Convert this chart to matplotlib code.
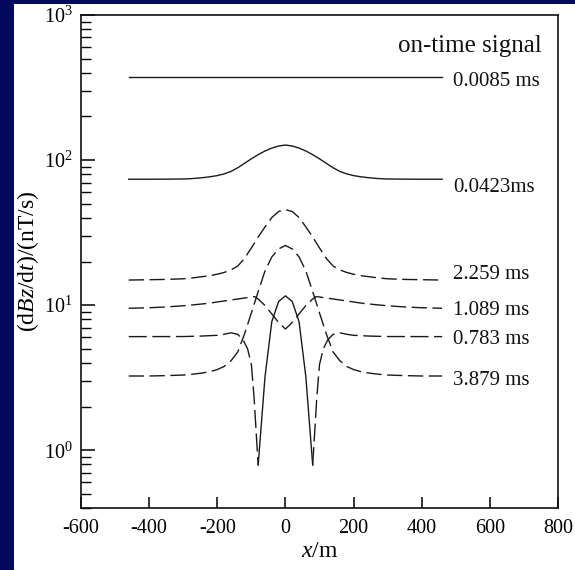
import matplotlib
matplotlib.use("Agg")
import matplotlib.pyplot as plt
from matplotlib.patches import Rectangle
from matplotlib.ticker import LogLocator, NullFormatter, FixedLocator

plt.rcParams['font.family'] = ['Liberation Serif', 'DejaVu Serif']
plt.rcParams['mathtext.fontset'] = 'custom'
plt.rcParams['mathtext.rm'] = 'Liberation Serif'
plt.rcParams['mathtext.it'] = 'Liberation Serif:italic'
plt.rcParams['mathtext.bf'] = 'Liberation Serif:bold'
plt.rcParams['axes.unicode_minus'] = False

# ---------------- data ----------------
x_grid = [-460, -400, -350, -300, -280, -260, -240, -220, -200, -180, -160, -140, -120, -100, -80, -60,
          -40, -20, 0, 20, 40, 60, 80, 100, 120, 140, 160, 180, 200, 220, 240, 260, 280, 300, 350, 400, 460]

v_0085 = [372] * 37

v_0423 = [73.8, 73.8, 73.9, 74.1, 74.4, 75.0, 75.8, 76.8, 78.2, 80.3, 83.5, 88.5, 95.0, 102.0, 109.0, 115.5,
          121.0, 125.0, 127.0, 125.0, 121.0, 115.5, 109.0, 102.0, 95.0, 88.5, 83.5, 80.3, 78.2, 76.8,
          75.8, 75.0, 74.4, 74.1, 73.9, 73.8, 73.8]

v_2259 = [14.9, 14.98, 15.05, 15.2, 15.35, 15.55, 15.77, 16.0, 16.35, 16.8, 17.5, 18.6, 21.0, 24.8, 29.5, 34.6,
          40.2, 44.2, 45.6, 44.2, 40.2, 34.6, 29.5, 24.8, 21.0, 18.6, 17.5, 16.8, 16.35, 16.0,
          15.77, 15.55, 15.35, 15.2, 15.05, 14.98, 14.9]

v_3879 = [3.25, 3.25, 3.27, 3.30, 3.33, 3.37, 3.42, 3.49, 3.60, 3.78, 4.13, 4.76, 6.33, 8.84, 12.4, 17.2,
          21.5, 24.4, 25.8, 24.4, 21.5, 17.2, 12.4, 8.84, 6.33, 4.76, 4.13, 3.78, 3.60, 3.49,
          3.42, 3.37, 3.33, 3.30, 3.27, 3.25, 3.25]

x_1089 = [-460, -400, -350, -300, -280, -260, -240, -220, -200, -180, -160, -140, -120, -100, -90, -80, -60,
          -40, -20, 0, 20, 40, 60, 80, 90, 100, 120, 140, 160, 180, 200, 220, 240, 260, 280, 300, 350, 400, 460]
v_1089 = [9.52, 9.60, 9.72, 9.91, 10.0, 10.11, 10.22, 10.35, 10.52, 10.69, 10.86, 11.03, 11.2, 11.39, 11.45,
          11.03, 9.95, 8.70, 7.60, 6.85, 7.60, 8.70, 9.95, 11.03, 11.45, 11.39, 11.2, 11.03, 10.86, 10.69,
          10.52, 10.35, 10.22, 10.11, 10.0, 9.91, 9.72, 9.60, 9.52]

x_0783_left = [-460, -300, -250, -200, -180, -160, -140, -125, -111, -100, -92, -80]
v_0783_left = [6.07, 6.08, 6.12, 6.2, 6.3, 6.45, 6.3, 5.8, 5.0, 3.9, 2.3, 0.79]
x_0783_mid = [-80, -60, -40, -20, 0, 20, 40, 60, 80]
v_0783_mid = [0.79, 3.2, 7.7, 10.6, 11.6, 10.6, 7.7, 3.2, 0.79]
x_0783_right = [80, 92, 100, 111, 125, 140, 160, 180, 200, 250, 300, 460]
v_0783_right = [0.79, 2.3, 3.9, 5.0, 5.8, 6.3, 6.45, 6.3, 6.2, 6.12, 6.08, 6.07]

curve_labels = ["0.0085 ms", "0.0423ms", "2.259 ms", "1.089 ms", "0.783 ms", "3.879 ms"]
label_y = [362, 67, 17.0, 9.6, 6.07, 3.15]
x_ticks = [-600, -400, -200, 0, 200, 400, 600, 800]

# ---------------- figure ----------------
W, H = 575, 570
fig = plt.figure(figsize=(W / 100, H / 100), dpi=100, facecolor='#03095c')
fig.patches.append(Rectangle((14 / W, 0), 1 - 14 / W, (H - 4) / H, transform=fig.transFigure,
                             facecolor='white', edgecolor='none', zorder=-10))

ax = fig.add_axes([81 / W, (H - 508) / H, 477 / W, 493 / H])
ax.set_facecolor('white')

lc = '#1a1a1a'
lw = 1.0
dash = (11, 4)
dash2 = (13, 4)

ax.plot(x_grid, v_0085, color=lc, lw=lw)
ax.plot(x_grid, v_0423, color=lc, lw=lw)
ax.plot(x_grid, v_2259, color=lc, lw=lw, dashes=dash)
ax.plot(x_1089, v_1089, color=lc, lw=lw, dashes=dash)
ax.plot(x_grid, v_3879, color=lc, lw=lw, dashes=dash)
ax.plot(x_0783_left, v_0783_left, color=lc, lw=lw, dashes=dash2)
ax.plot(x_0783_right, v_0783_right, color=lc, lw=lw, dashes=dash2)
ax.plot(x_0783_mid, v_0783_mid, color=lc, lw=lw)

for t, yv in zip(curve_labels, label_y):
    ax.text(492, yv, t, fontsize=15, ha='left', va='center_baseline', color='#111111')
ax.text(753, 640, "on-time signal", fontsize=18, ha='right', va='center_baseline', color='#111111')

ax.set_yscale('log')
ax.set_ylim(0.4, 1000)
ax.set_xlim(-600, 800)
ax.xaxis.set_major_locator(FixedLocator(x_ticks))
ax.yaxis.set_major_locator(LogLocator(base=10, numticks=10))
ax.yaxis.set_minor_locator(LogLocator(base=10, subs=range(2, 10), numticks=20))
ax.yaxis.set_minor_formatter(NullFormatter())

for s in ax.spines.values():
    s.set_linewidth(1.2)
    s.set_color('#111111')

ax.tick_params(axis='x', which='major', direction='in', length=8, width=1.1, labelsize=14.5, pad=8)
ax.tick_params(axis='y', which='major', direction='in', length=10, width=1.1, labelsize=14.5, pad=6)
ax.tick_params(axis='y', which='minor', direction='in', length=7, width=1.0)
ax.tick_params(top=False, right=False, which='both')

ax.set_xlabel(r'$x$/m', fontsize=17, labelpad=2)
ax.set_ylabel(r'(d$Bz$/d$t$)/(nT/s)', fontsize=17, labelpad=2)

fig.savefig('out.png', dpi=100, facecolor=fig.get_facecolor())
